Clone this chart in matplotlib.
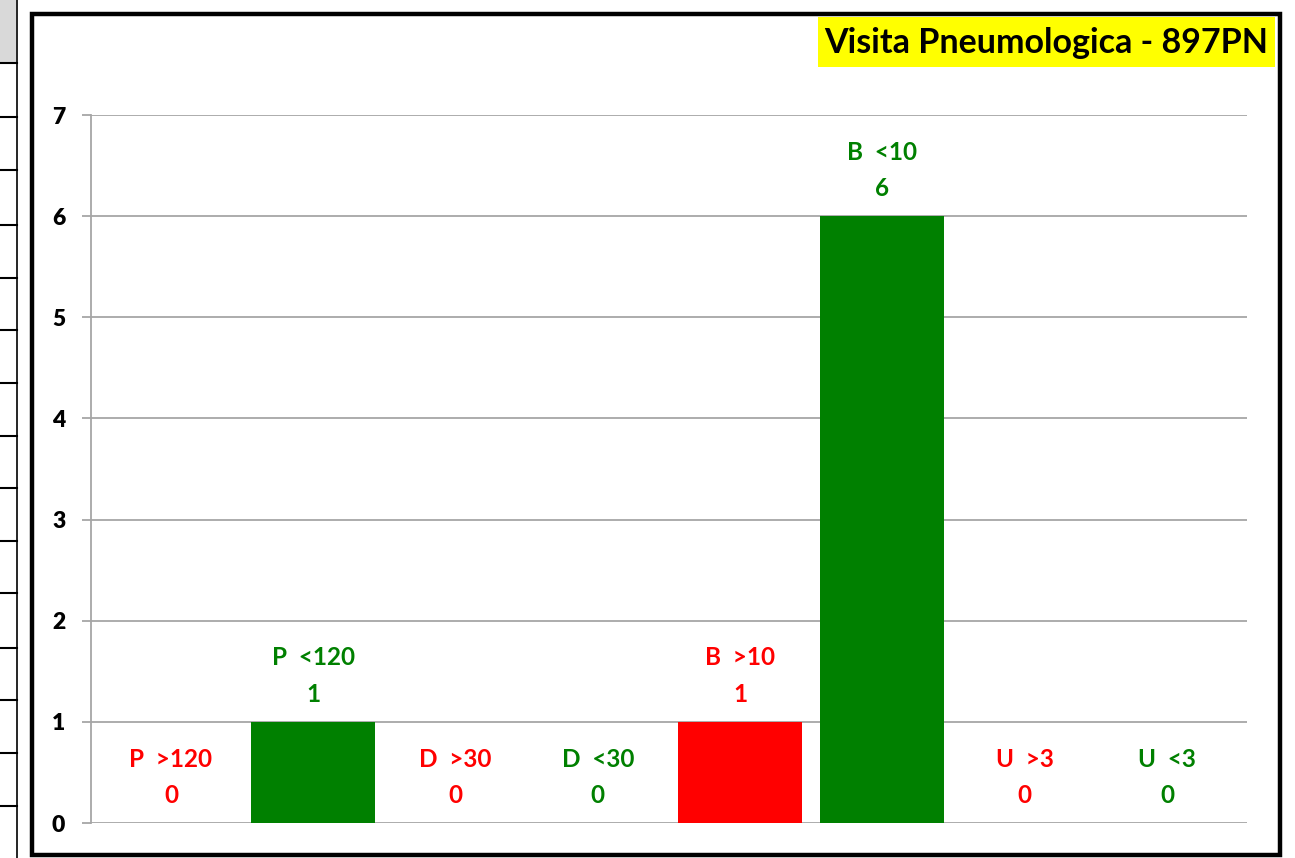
import matplotlib
matplotlib.use("Agg")
import matplotlib.pyplot as plt
from matplotlib.patches import Rectangle
from matplotlib.lines import Line2D

categories = ['P  >120', 'P  <120', 'D  >30', 'D  <30', 'B  >10', 'B  <10', 'U  >3', 'U  <3']
values = [0, 1, 0, 0, 1, 6, 0, 0]
bar_colors = ['#FF0000', '#008000', '#FF0000', '#008000', '#FF0000', '#008000', '#FF0000', '#008000']
yticks = [0, 1, 2, 3, 4, 5, 6, 7]
title = 'Visita Pneumologica - 897PN'

W, H = 1295, 858
fig = plt.figure(figsize=(W / 100, H / 100), dpi=100)
plt.rcParams['font.family'] = ['Lato', 'DejaVu Sans']

def fx(px):
    return px / W

def fy(py):
    return 1 - py / H

# left spreadsheet fragment
fig.patches.append(Rectangle((0, fy(63)), fx(16), fy(0) - fy(63), transform=fig.transFigure,
                             facecolor='#D9D9D9', edgecolor='none', zorder=-5))
for yy in [63, 117, 170, 225, 278, 330, 383, 436, 488, 541, 593, 648, 700, 753, 806]:
    fig.lines.append(Line2D([0, fx(17)], [fy(yy), fy(yy)], transform=fig.transFigure,
                            color='black', lw=1.5, zorder=-4))
fig.lines.append(Line2D([fx(17), fx(17)], [0, 1], transform=fig.transFigure, color='black',
                        lw=1.2, zorder=-4))

# chart frame
fig.patches.append(Rectangle((fx(32), fy(855)), fx(1280) - fx(32), fy(14) - fy(855),
                             transform=fig.transFigure, facecolor='white', edgecolor='black',
                             lw=3.2, zorder=-3))

ax = fig.add_axes([fx(91), fy(823), fx(1247) - fx(91), fy(115) - fy(823)])
ax.set_facecolor('none')
x = list(range(len(categories)))
ax.bar(x, values, width=0.871, color=bar_colors, zorder=2)
ax.set_xlim(-0.562, 7.562)
ax.set_ylim(0, 7)
ax.set_yticks(yticks)
ax.set_yticklabels([str(t) for t in yticks], fontsize=16.5, fontweight='heavy')
ax.set_xticks([])
ax.yaxis.grid(True, color='#A6A6A6', lw=1.3, zorder=0)
ax.set_axisbelow(True)
for s in ['top', 'right', 'bottom']:
    ax.spines[s].set_visible(False)
ax.spines['left'].set_color('#A6A6A6')
ax.spines['left'].set_linewidth(1.3)
ax.tick_params(axis='y', length=6.5, width=1.3, color='#A6A6A6', pad=12)

for xi, v, c, name in zip(x, values, bar_colors, categories):
    ax.annotate(str(v), (xi, v), xytext=(0, 20), textcoords='offset points',
                ha='center', va='center', color=c, fontsize=17.5, fontweight='bold')
    ax.annotate(name, (xi, v), xytext=(0, 46), textcoords='offset points',
                ha='center', va='center', color=c, fontsize=17.5, fontweight='bold')

# title with yellow box
fig.patches.append(Rectangle((fx(818), fy(67)), fx(1275) - fx(818), fy(17) - fy(67),
                             transform=fig.transFigure, facecolor='#FFFF00', edgecolor='none',
                             zorder=1))
fig.text(fx(1046), fy(43), title, ha='center', va='center', fontsize=24.5, fontweight='bold',
         color='black', zorder=2)

fig.savefig('out.png', dpi=100)
